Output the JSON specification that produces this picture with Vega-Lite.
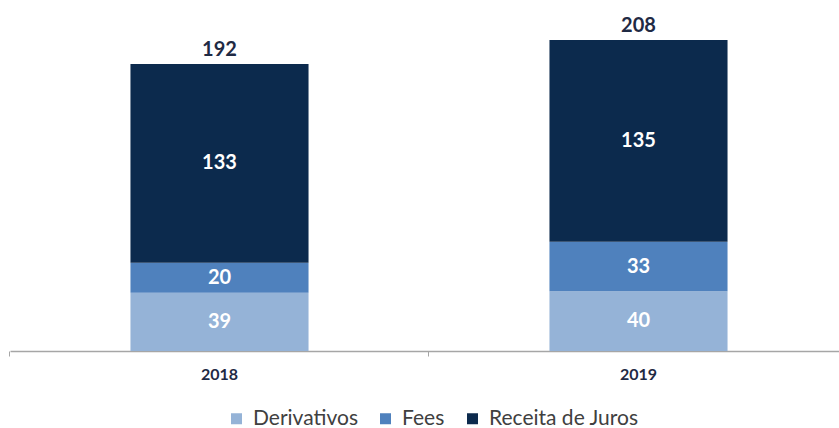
{
  "$schema": "https://vega.github.io/schema/vega-lite/v6.json",
  "width": 829,
  "height": 311,
  "autosize": "none",
  "padding": {"left": 10, "top": 40, "right": 0, "bottom": 77},
  "background": "white",
  "config": {"view": {"stroke": null}, "font": "Lato"},
  "data": {"values": [
    {"ano": "2018", "cat": "Derivativos", "valor": 39},
    {"ano": "2018", "cat": "Fees", "valor": 20},
    {"ano": "2018", "cat": "Receita de Juros", "valor": 133},
    {"ano": "2019", "cat": "Derivativos", "valor": 40},
    {"ano": "2019", "cat": "Fees", "valor": 33},
    {"ano": "2019", "cat": "Receita de Juros", "valor": 135}
  ]},
  "transform": [
    {"stack": "valor", "groupby": ["ano"], "sort": [{"field": "cat", "order": "ascending"}], "as": ["v0", "v1"]},
    {"calculate": "(datum.v0 + datum.v1) / 2", "as": "mid"}
  ],
  "encoding": {
    "x": {
      "field": "ano",
      "type": "nominal",
      "scale": {"range": [0, 838], "paddingInner": 0.575, "paddingOuter": 0.2875},
      "axis": {
        "title": null,
        "labelAngle": 0,
        "labelFontSize": 16,
        "labelFontWeight": "bold",
        "labelColor": "#1f2a44",
        "labelFont": "Lato",
        "labelPadding": 10,
        "tickSize": 5,
        "bandPosition": -0.677,
        "domainColor": "#a6a6a6",
        "tickColor": "#a6a6a6",
        "domainWidth": 1.5,
        "tickWidth": 1
      }
    }
  },
  "layer": [
    {
      "mark": {"type": "bar"},
      "encoding": {
        "y": {"field": "v1", "type": "quantitative", "scale": {"domain": [0, 208], "nice": false}, "axis": null},
        "y2": {"field": "v0"},
        "color": {
          "field": "cat",
          "type": "nominal",
          "scale": {"domain": ["Derivativos", "Fees", "Receita de Juros"], "range": ["#95b3d7", "#4f81bd", "#0c2a4d"]},
          "legend": {
            "orient": "none",
            "direction": "horizontal",
            "title": null,
            "legendX": 216,
            "legendY": 368,
            "symbolType": "square",
            "symbolSize": 121,
            "symbolStrokeWidth": 0,
            "symbolOpacity": 1,
            "labelFontSize": 21,
            "labelColor": "#404040",
            "labelFont": "Lato",
            "labelOffset": 6,
            "columnPadding": 17
          }
        }
      }
    },
    {
      "mark": {"type": "text", "color": "white", "fontWeight": "bold", "fontSize": 20, "baseline": "middle"},
      "encoding": {
        "y": {"field": "mid", "type": "quantitative"},
        "text": {"field": "valor", "type": "quantitative"}
      }
    },
    {
      "transform": [{"aggregate": [{"op": "sum", "field": "valor", "as": "total"}], "groupby": ["ano"]}],
      "mark": {"type": "text", "fontWeight": "bold", "fontSize": 20, "color": "#1f2a44", "baseline": "alphabetic", "dy": -8},
      "encoding": {
        "y": {"field": "total", "type": "quantitative"},
        "text": {"field": "total", "type": "quantitative"}
      }
    }
  ]
}
